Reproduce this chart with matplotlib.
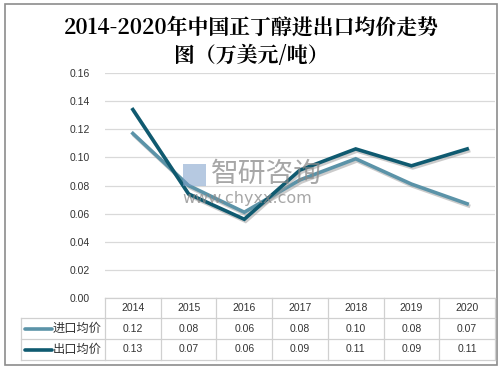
import matplotlib
matplotlib.use("Agg")
import matplotlib.pyplot as plt
import matplotlib.patheffects as pe
from matplotlib.lines import Line2D
from matplotlib.patches import Rectangle

plt.rcParams['font.family'] = ['Noto Sans CJK SC', 'DejaVu Sans']

years = ['2014', '2015', '2016', '2017', '2018', '2019', '2020']
import_price = [0.117, 0.080, 0.061, 0.084, 0.099, 0.081, 0.067]
export_price = [0.134, 0.074, 0.056, 0.091, 0.106, 0.094, 0.106]
series_names = ['进口均价', '出口均价']
yticks = [0.00, 0.02, 0.04, 0.06, 0.08, 0.10, 0.12, 0.14, 0.16]
title = '2014-2020年中国正丁醇进出口均价走势\n图（万美元/吨）'

c_import = '#5b93a8'
c_export = '#0f5a70'

W, H = 501, 370
fig = plt.figure(figsize=(W / 100, H / 100), dpi=100)
fig.patch.set_facecolor('white')

def fx(px):
    return px / W

def fy(py):
    return 1 - py / H

# outer border
fig.patches.append(Rectangle((fx(5), fy(365)), fx(492), 361 / H, transform=fig.transFigure,
                             fill=False, edgecolor='#8c8c8c', linewidth=1.2))

ax_l, ax_r, ax_t, ax_b = 105, 495, 73, 298
ax = fig.add_axes([fx(ax_l), fy(ax_b), fx(ax_r - ax_l), (ax_b - ax_t) / H])
x = list(range(len(years)))
shadow = [pe.SimpleLineShadow(offset=(1, -1.5), shadow_color='#999999', alpha=0.5), pe.Normal()]
ax.plot(x, import_price, color=c_import, linewidth=2.6, solid_joinstyle='miter', path_effects=shadow, zorder=3)
ax.plot(x, export_price, color=c_export, linewidth=2.6, solid_joinstyle='miter', path_effects=shadow, zorder=4)
ax.set_xlim(-0.5, len(years) - 0.5)
ax.set_ylim(0, 0.16)
ax.set_yticks(yticks)
ax.set_yticklabels([f'{v:.2f}' for v in yticks], fontsize=7.5, color='#333333',
                   family='Liberation Sans')
ax.tick_params(axis='y', length=0, pad=11)
ax.set_xticks([])
ax.grid(axis='y', color='#d9d9d9', linewidth=0.9)
ax.set_axisbelow(True)
for s in ax.spines.values():
    s.set_visible(False)

# watermark
fig.text(fx(211), fy(174), '智研咨询', fontsize=20, color='#8a8a8a', alpha=0.75,
         ha='left', va='center', zorder=5)
fig.text(fx(182), fy(198), 'www.chyxx.com', fontsize=11.5, color='#8a8a8a', alpha=0.75,
         ha='left', va='center', family='DejaVu Sans', zorder=5)
fig.patches.append(Rectangle((fx(183), fy(186)), fx(23), 22 / H, transform=fig.transFigure,
                             facecolor='#7b9ec9', alpha=0.55, edgecolor='none'))

# title
fig.text(fx(251), fy(42), title, ha='center', va='center', fontsize=15,
         fontweight='bold', color='black', linespacing=1.25,
         family=['Noto Serif CJK SC', 'Noto Sans CJK SC', 'DejaVu Sans'])

# data table
tcol = '#d0d0d0'
row_y = [298, 318, 339, 360]
left_x = 21
col_w = (ax_r - ax_l) / len(years)

def hline(x0, x1, y):
    fig.lines.append(Line2D([fx(x0), fx(x1)], [fy(y), fy(y)], transform=fig.transFigure,
                            color=tcol, linewidth=0.9))

def vline(xx, y0, y1):
    fig.lines.append(Line2D([fx(xx), fx(xx)], [fy(y0), fy(y1)], transform=fig.transFigure,
                            color=tcol, linewidth=0.9))

hline(ax_l, ax_r, row_y[0])
for yy in row_y[1:]:
    hline(left_x, ax_r, yy)
vline(ax_l, row_y[0], row_y[3])
vline(left_x, row_y[1], row_y[3])
for i in range(1, len(years) + 1):
    vline(ax_l + i * col_w, row_y[0], row_y[3])

for i, yr in enumerate(years):
    cx = ax_l + (i + 0.5) * col_w
    fig.text(fx(cx), fy((row_y[0] + row_y[1]) / 2), yr, ha='center', va='center',
             fontsize=7.5, color='#333333', family='Liberation Sans')
    fig.text(fx(cx), fy((row_y[1] + row_y[2]) / 2), f'{import_price[i]:.2f}', ha='center',
             va='center', fontsize=7.5, color='#333333', family='Liberation Sans')
    fig.text(fx(cx), fy((row_y[2] + row_y[3]) / 2), f'{export_price[i]:.2f}', ha='center',
             va='center', fontsize=7.5, color='#333333', family='Liberation Sans')

for r, (name, col) in enumerate(zip(series_names, [c_import, c_export])):
    cy = (row_y[r + 1] + row_y[r + 2]) / 2
    fig.lines.append(Line2D([fx(25), fx(52)], [fy(cy), fy(cy)], transform=fig.transFigure,
                            color=col, linewidth=2.6, solid_capstyle='round'))
    fig.text(fx(53), fy(cy), name, ha='left', va='center', fontsize=8.8, color='#333333')

fig.savefig('out.png', dpi=100)
